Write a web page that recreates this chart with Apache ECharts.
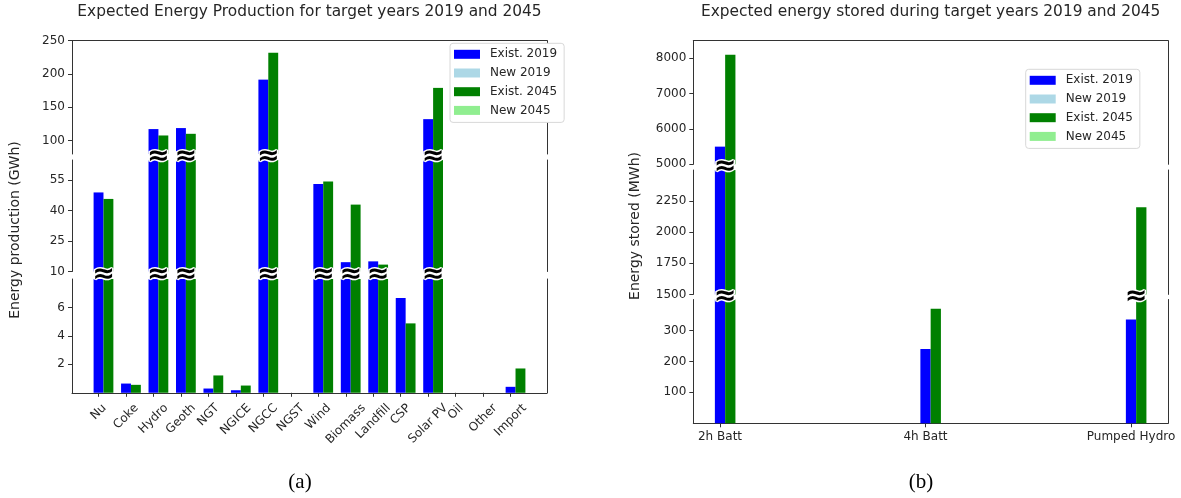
<!DOCTYPE html>
<html>
<head>
<meta charset="utf-8">
<script src="https://cdn.jsdelivr.net/npm/echarts@6/dist/echarts.min.js"></script>
<style>
html, body { margin: 0; padding: 0; background: #fff; }
#chart { width: 1181px; height: 498px; }
</style>
</head>
<body>
<div id="chart"></div>
<script>
// panel (a): energy production, GWh
const catsA = ['Nu', 'Coke', 'Hydro', 'Geoth', 'NGT', 'NGICE', 'NGCC', 'NGST', 'Wind', 'Biomass', 'Landfill', 'CSP', 'Solar PV', 'Oil', 'Other', 'Import'];
const exist2019A = [49.0, 0.65, 117.4, 118.9, 0.3, 0.18, 191.6, 0, 53.1, 14.6, 15.0, 6.66, 132.3, 0, 0, 0.42];
const new2019A = [0, 0, 0, 0, 0, 0, 0, 0, 0, 0, 0, 0, 0, 0, 0, 0];
const exist2045A = [45.8, 0.56, 107.8, 110.3, 1.22, 0.51, 232.0, 0, 54.4, 43.0, 13.4, 4.88, 179.2, 0, 0, 1.71];
const new2045A = [0, 0, 0, 0, 0, 0, 0, 0, 0, 0, 0, 0, 0, 0, 0, 0];
// broken y axis segments, bottom to top
const segA = [[0, 8], [10, 65], [80, 250]];
const ticksA = [[2, 4, 6], [10, 25, 40, 55], [100, 150, 200, 250]];

// panel (b): energy stored, MWh
const catsB = ['2h Batt', '4h Batt', 'Pumped Hydro'];
const exist2019B = [5500, 240, 335];
const new2019B = [0, 0, 0];
const exist2045B = [8100, 370, 2200];
const new2045B = [0, 0, 0];
const segB = [[0, 400], [1500, 2500], [5000, 8500]];
const ticksB = [[100, 200, 300], [1500, 1750, 2000, 2250], [5000, 6000, 7000, 8000]];

const names = ['Exist. 2019', 'New 2019', 'Exist. 2045', 'New 2045'];
const colors = ['#0000ff', '#add8e6', '#008000', '#90ee90'];

const FONT = 'DejaVu Sans';
const TXT = '#262626';
const AX = '#333';

const panels = [
  {
    cats: catsA, vals: [exist2019A, new2019A, exist2045A, new2045A], segs: segA, ticks: ticksA,
    barW: 0.36, left: 72, width: 475,
    // [top, height] bottom to top
    boxes: [[279, 113.8], [160, 111.5], [40.7, 113.3]],
    rotate: true
  },
  {
    cats: catsB, vals: [exist2019B, new2019B, exist2045B, new2045B], segs: segB, ticks: ticksB,
    barW: 0.05, left: 693.3, width: 474.7,
    boxes: [[299.5, 123.8], [170, 124.4], [40.7, 123.6]],
    rotate: false
  }
];

// matplotlib style auto xlim (5% margins around the bars)
function padRange(n, w) {
  const lo = -w / 2, hi = n - 1 + 1.5 * w;
  const m = (hi - lo) * 0.05;
  return [lo - m, hi + m];
}

// for the rotated labels (centred under the tick like matplotlib)
const measureCtx = document.createElement('canvas').getContext('2d');
measureCtx.font = '12px ' + FONT;

const grid = [], xAxis = [], yAxis = [], series = [];

panels.forEach((p) => {
  const xr = padRange(p.cats.length, p.barW);
  const idx = p.cats.map((c, i) => i);
  const barWidth = (p.barW * 100) + '%';
  const g0 = grid.length;
  p.segs.forEach((seg, si) => {
    const g = grid.length;
    const box = p.boxes[si];
    grid.push({ left: p.left, top: box[0], width: p.width, height: box[1], outerBoundsMode: 'none' });
    const isBottom = si === 0;
    const isTop = si === p.segs.length - 1;
    xAxis.push({
      gridIndex: g, type: 'value', min: xr[0], max: xr[1],
      show: isBottom || isTop,
      position: isTop ? 'top' : 'bottom',
      axisLine: { show: true, onZero: false, lineStyle: { color: AX, width: 1 } },
      axisTick: isBottom ? { show: true, customValues: idx, length: 4, lineStyle: { color: AX } } : { show: false },
      axisLabel: (isBottom && !p.rotate) ? {
        show: true, customValues: idx, margin: 8,
        fontFamily: FONT, fontSize: 12, color: TXT,
        formatter: (v) => p.cats[Math.round(v)]
      } : { show: false },
      splitLine: { show: false }
    });
    yAxis.push({
      gridIndex: g, type: 'value', min: seg[0], max: seg[1], position: 'left',
      axisLine: { show: true, onZero: false, lineStyle: { color: AX, width: 1 } },
      axisTick: { show: true, customValues: p.ticks[si], length: 4, lineStyle: { color: AX } },
      axisLabel: { show: true, customValues: p.ticks[si], margin: 7, fontFamily: FONT, fontSize: 12, color: TXT,
        showMinLabel: true, showMaxLabel: true, formatter: (v) => String(v) },
      splitLine: { show: false }
    });
    yAxis.push({
      gridIndex: g, type: 'value', min: 0, max: 1, position: 'right',
      axisLine: { show: true, onZero: false, lineStyle: { color: AX, width: 1 } },
      axisTick: { show: false }, axisLabel: { show: false }, splitLine: { show: false }
    });
    // empty column to the left so the 2019 bar sits centred on the tick
    series.push({ type: 'bar', xAxisIndex: g, yAxisIndex: 2 * g, data: [], barWidth: barWidth, barGap: '0%', silent: true });
    names.forEach((nm, k) => {
      series.push({
        name: nm, type: 'bar', xAxisIndex: g, yAxisIndex: 2 * g,
        stack: 'g' + g + (k < 2 ? '_19' : '_45'),
        data: p.vals[k].map((v, i) => [i, v]),
        barWidth: barWidth, barGap: '0%', clip: true,
        itemStyle: { color: colors[k] },
        silent: true
      });
    });
    if (isBottom && p.rotate) {
      // 45° category labels, rotated box centred on the tick
      series.push({
        type: 'custom', xAxisIndex: g, yAxisIndex: 2 * g, data: idx.map((i) => [i, seg[0]]),
        clip: false, silent: true, z: 5, encode: { x: 0, y: 1 },
        renderItem: (params, api) => {
          const i = api.value(0);
          const pt = api.coord([i, api.value(1)]);
          const name = p.cats[i];
          const w = measureCtx.measureText(name).width;
          const half = 0.3536 * (w + 14);
          return {
            type: 'text', x: pt[0], y: pt[1] + 8.4 + half, rotation: Math.PI / 4,
            style: { text: name, font: '12px ' + FONT, fill: TXT, align: 'center', verticalAlign: 'middle' }
          };
        }
      });
    }
  });

  // "≈" markers over bars that cross each break
  for (let si = 0; si < p.segs.length - 1; si++) {
    const g = g0 + si;
    const nextLo = p.segs[si + 1][0];
    const top = p.segs[si][1];
    const gapPx = p.boxes[si][0] - (p.boxes[si + 1][0] + p.boxes[si + 1][1]);
    const marks = [];
    p.cats.forEach((c, i) => {
      const m = Math.max(p.vals[0][i] + p.vals[1][i], p.vals[2][i] + p.vals[3][i]);
      if (m > nextLo) marks.push([i, top]);
    });
    series.push({
      type: 'custom', xAxisIndex: g, yAxisIndex: 2 * g, data: marks, clip: false, z: 20, silent: true,
      encode: { x: 0, y: 1 },
      renderItem: (params, api) => {
        const pt = api.coord([api.value(0), api.value(1)]);
        const dx = api.size([p.barW / 2, 0])[0];
        return {
          type: 'text', x: pt[0] + dx, y: pt[1] - gapPx / 2,
          style: {
            text: '≈', font: 'bold 27px DejaVu Sans', fill: '#000',
            stroke: '#fff', lineWidth: 3, strokeFirst: true,
            align: 'center', verticalAlign: 'middle'
          }
        };
      }
    });
  }
});

const legendBase = {
  data: names, orient: 'vertical', icon: 'rect', itemWidth: 26, itemHeight: 9, itemGap: 4.7,
  padding: [4, 7, 5, 4], backgroundColor: '#fff', borderColor: '#d8d8d8', borderWidth: 1, borderRadius: 3,
  selectedMode: false,
  textStyle: { fontFamily: FONT, fontSize: 12, color: TXT, lineHeight: 14, padding: [0, 0, 0, 5] }
};

const chart = echarts.init(document.getElementById('chart'), null, { renderer: 'canvas' });
chart.setOption({
  animation: false,
  backgroundColor: '#fff',
  grid: grid,
  xAxis: xAxis,
  yAxis: yAxis,
  legend: [
    Object.assign({}, legendBase, { left: 450, top: 43.3 }),
    Object.assign({}, legendBase, { left: 1025.7, top: 69.3 })
  ],
  graphic: [
    { type: 'text', x: 309.5, y: 12, style: { text: 'Expected Energy Production for target years 2019 and 2045', font: '15.4px DejaVu Sans', fill: TXT, align: 'center', verticalAlign: 'middle' } },
    { type: 'text', x: 930.7, y: 12, style: { text: 'Expected energy stored during target years 2019 and 2045', font: '15.4px DejaVu Sans', fill: TXT, align: 'center', verticalAlign: 'middle' } },
    { type: 'text', x: 15, y: 230, rotation: Math.PI / 2, style: { text: 'Energy production (GWh)', font: '14px DejaVu Sans', fill: TXT, align: 'center', verticalAlign: 'middle' } },
    { type: 'text', x: 635, y: 226, rotation: Math.PI / 2, style: { text: 'Energy stored (MWh)', font: '14px DejaVu Sans', fill: TXT, align: 'center', verticalAlign: 'middle' } },
    { type: 'text', x: 300, y: 482, style: { text: '(a)', font: '21px Liberation Serif', fill: '#000', align: 'center', verticalAlign: 'middle' } },
    { type: 'text', x: 921, y: 482, style: { text: '(b)', font: '21px Liberation Serif', fill: '#000', align: 'center', verticalAlign: 'middle' } }
  ],
  series: series
});
</script>
</body>
</html>
